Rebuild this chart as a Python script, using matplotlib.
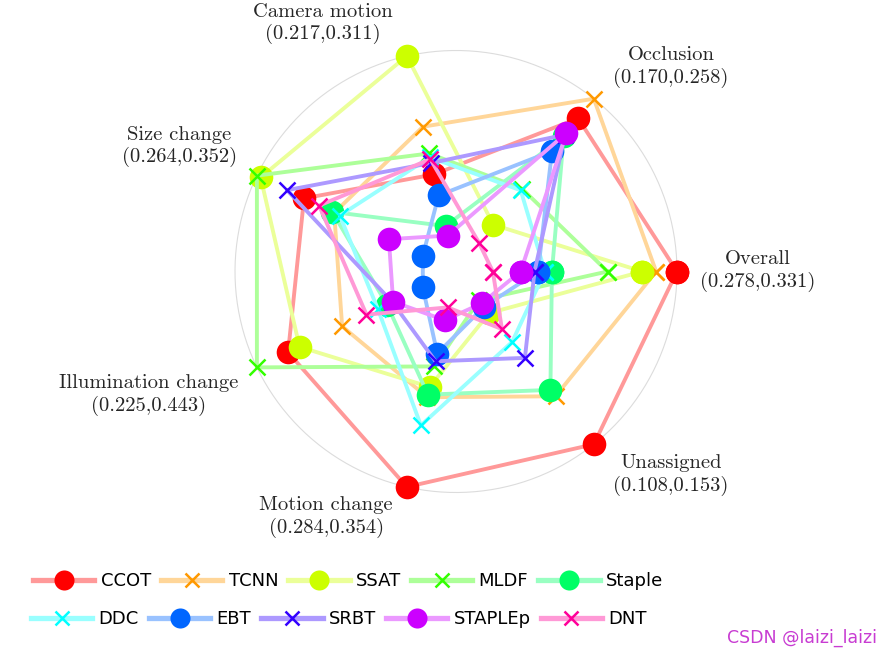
import numpy as np
import matplotlib
matplotlib.use("Agg")
import matplotlib.pyplot as plt
from matplotlib.colors import hsv_to_rgb

# ---------------- data ----------------
axes_names = ["Overall", "Occlusion", "Camera motion", "Size change",
              "Illumination change", "Motion change", "Unassigned"]
axis_min = [0.278, 0.170, 0.217, 0.264, 0.225, 0.284, 0.108]
axis_max = [0.331, 0.258, 0.311, 0.352, 0.443, 0.354, 0.153]

trackers = ["CCOT", "TCNN", "SSAT", "MLDF", "Staple",
            "DDC", "EBT", "SRBT", "STAPLEp", "DNT"]

CCOT    = [0.331, 0.246, 0.249, 0.327, 0.402, 0.354, 0.153]
TCNN    = [0.325, 0.258, 0.274, 0.311, 0.331, 0.319, 0.138]
SSAT    = [0.321, 0.181, 0.311, 0.350, 0.387, 0.315, 0.112]
MLDF    = [0.311, 0.203, 0.260, 0.352, 0.443, 0.307, 0.108]
Staple  = [0.295, 0.235, 0.222, 0.312, 0.272, 0.318, 0.136]
DDC     = [0.293, 0.202, 0.258, 0.308, 0.284, 0.330, 0.121]
EBT     = [0.291, 0.226, 0.238, 0.264, 0.225, 0.302, 0.110]
SRBT    = [0.290, 0.236, 0.255, 0.336, 0.265, 0.305, 0.126]
STAPLEp = [0.286, 0.237, 0.217, 0.282, 0.264, 0.289, 0.109]
DNT     = [0.278, 0.170, 0.257, 0.319, 0.299, 0.284, 0.117]

series = [CCOT, TCNN, SSAT, MLDF, Staple, DDC, EBT, SRBT, STAPLEp, DNT]
markers = ["o", "x", "o", "x", "o", "x", "o", "x", "o", "x"]

# ---------------- layout / style ----------------
W, H = 891, 656
CX, CY, R = 456.0, 271.5, 221.0   # pixel centre and radius of the web

fig = plt.figure(figsize=(W / 100, H / 100), dpi=100)
ax = fig.add_axes([0, 0, 1, 1])
ax.set_xlim(-CX / R, (W - CX) / R)
ax.set_ylim(-(H - CY) / R, CY / R)
ax.axis("off")

n_ax = len(axes_names)
angles = np.arange(n_ax) * 2 * np.pi / n_ax

# outer circle
t = np.linspace(0, 2 * np.pi, 500)
ax.plot(np.cos(t), np.sin(t), color="#dcdcdc", lw=0.8, zorder=0)

mins = np.array(axis_min)
maxs = np.array(axis_max)

handles = []
for i, (name, vals, mk) in enumerate(zip(trackers, series, markers)):
    full = hsv_to_rgb([i / 10.0, 1.0, 1.0])
    light = 0.4 * full + 0.6
    v = np.array(vals)
    r = 1 / 6 + 5 / 6 * (v - mins) / (maxs - mins)
    x = r * np.cos(angles)
    y = r * np.sin(angles)
    x = np.append(x, x[0])
    y = np.append(y, y[0])
    if mk == "o":
        ln, = ax.plot(x, y, color=light, lw=2.8, marker="o", ms=17,
                      mfc=full, mec=full, mew=0, label=name, zorder=2 + i)
    else:
        ln, = ax.plot(x, y, color=light, lw=2.8, marker="x", ms=12,
                      mfc=full, mec=full, mew=1.8, label=name, zorder=2 + i)
    handles.append(ln)

# axis labels
label_pos = [(1.104, 0.002, "left"), (0.712, 0.925, "left"),
             (-0.285, 1.122, "right"), (-0.991, 0.565, "right"),
             (-0.986, -0.559, "right"), (-0.285, -1.111, "right"),
             (0.712, -0.921, "left")]
for name, lo, hi, (lx, ly, ha) in zip(axes_names, axis_min, axis_max, label_pos):
    ax.text(lx, ly, f"{name}\n({lo:.3f},{hi:.3f})", ha=ha, va="center",
            multialignment="center", fontsize=14.8, family="cmr10",
            color="#262626", linespacing=1.2)

# legends (two rows)
leg_kw = dict(loc="center left", ncol=5, frameon=False, fontsize=13,
              handlelength=3.4, handletextpad=0.35, columnspacing=0.55,
              borderpad=0, borderaxespad=0, markerscale=0.85)
leg1 = fig.legend(handles[:5], trackers[:5],
                  bbox_to_anchor=(33 / W, 1 - 581 / H), **leg_kw)
leg2 = fig.legend(handles[5:], trackers[5:],
                  bbox_to_anchor=(31 / W, 1 - 619 / H), **leg_kw)
for lg in (leg1, leg2):
    for h in lg.legend_handles:
        h.set_linewidth(3.8)

fig.text(877 / W, 1 - 638 / H, "CSDN @laizi_laizi", ha="right", va="center",
         color="#c83cd2", fontsize=12.5)

fig.savefig("out.png", dpi=100)
